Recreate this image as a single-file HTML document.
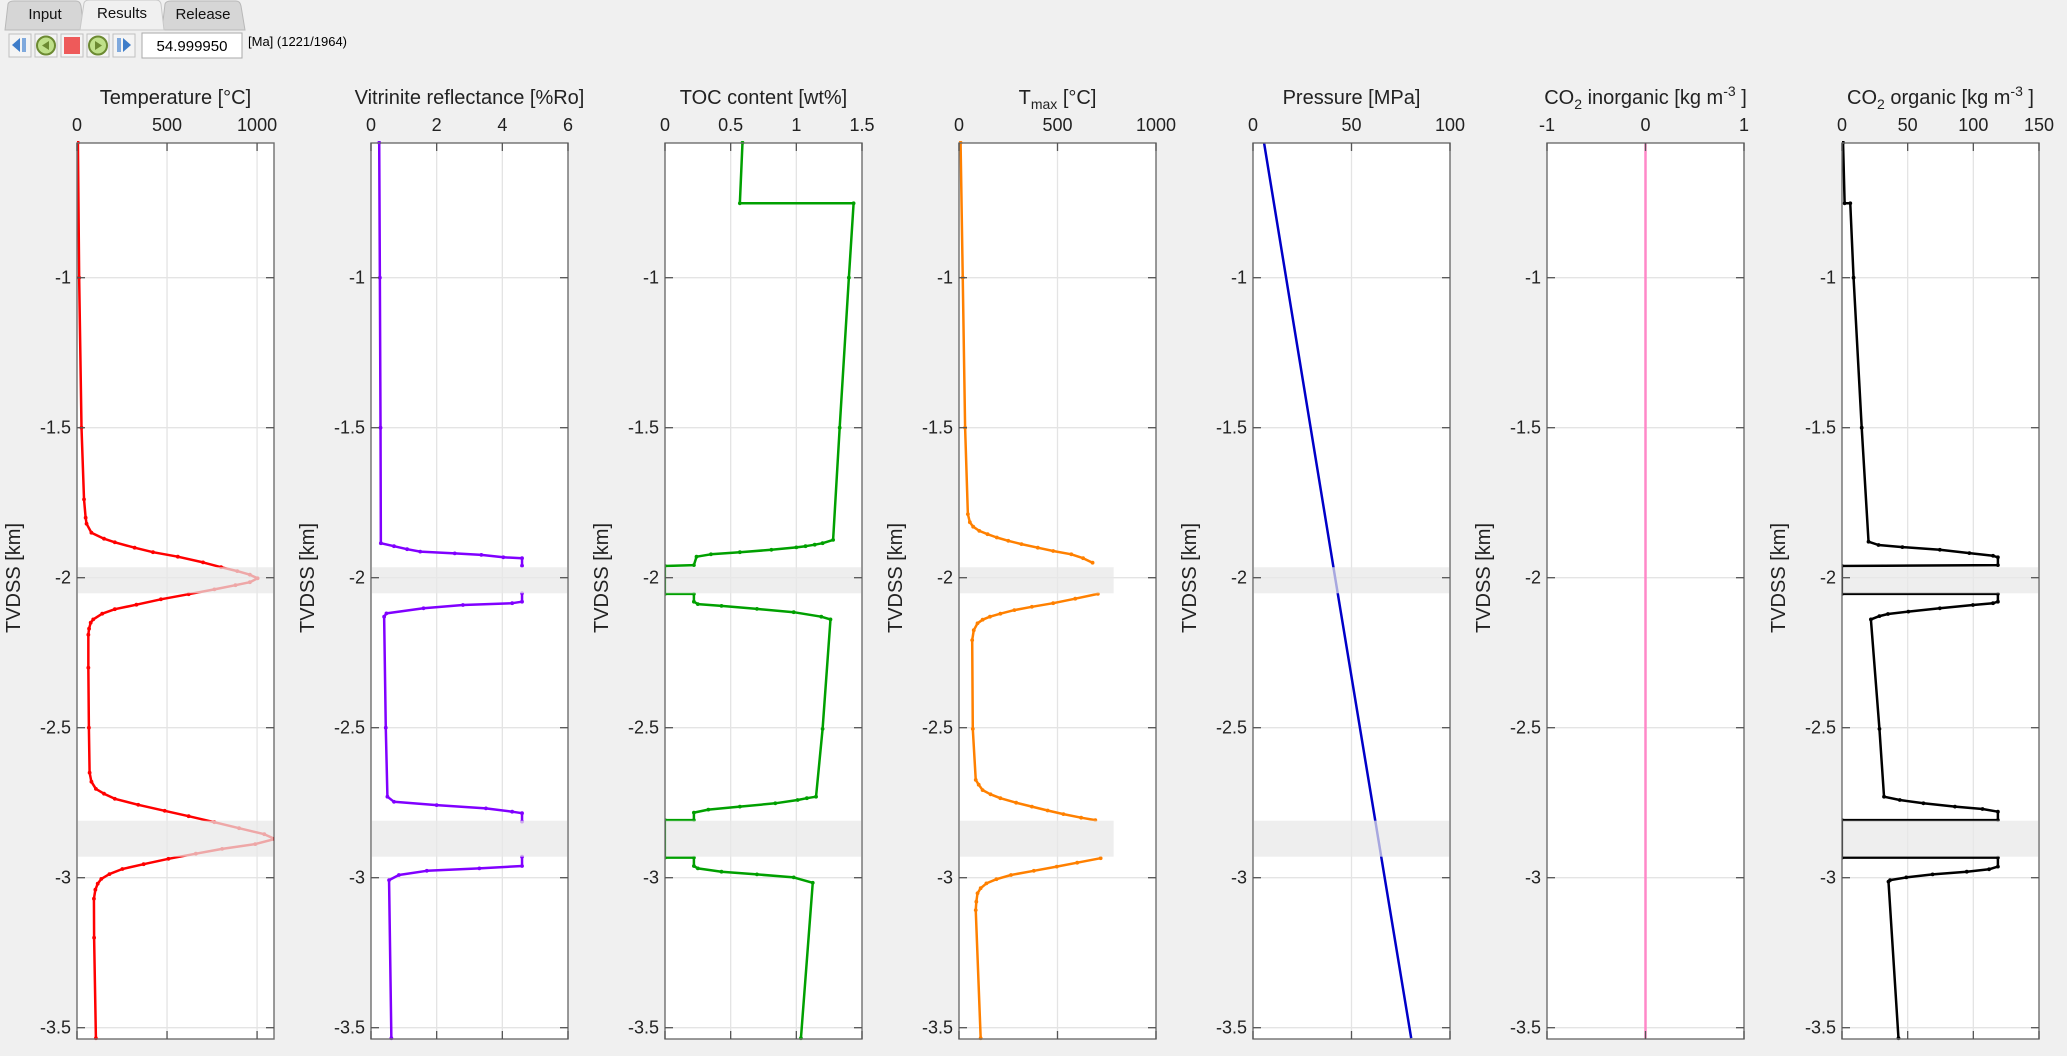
<!DOCTYPE html>
<html><head><meta charset="utf-8"><style>
body{margin:0;background:#f0f0f0;width:2067px;height:1056px;overflow:hidden;font-family:"Liberation Sans",Arial,sans-serif;}
svg{position:absolute;left:0;top:0}
</style></head><body>
<svg id="chart" width="2067" height="1056" viewBox="0 0 2067 1056">
  <rect x="0" y="0" width="2067" height="1056" fill="#f0f0f0"/>
  <g>
    <path d="M5,30 L8,4 Q9,1 14,1 L76,1 Q80,1 81,6 L84,30 Z" fill="#d6d6d6" stroke="#b8b8b8"/>
    <text x="45" y="19" font-size="15" text-anchor="middle" fill="#111">Input</text>
    <path d="M162,30 L165,4 Q166,1 171,1 L236,1 Q240,1 241,6 L245,30 Z" fill="#d6d6d6" stroke="#b8b8b8"/>
    <text x="203" y="19" font-size="15" text-anchor="middle" fill="#111">Release</text>
    <path d="M80,30 L84,3 Q85,0 90,0 L156,0 Q160,0 161,4 L164,30 Z" fill="#f0f0f0" stroke="#c8c8c8"/>
    <text x="122" y="18" font-size="15" text-anchor="middle" fill="#111">Results</text>
  </g>
  <g>
    <g><rect x="9" y="34" width="22" height="23" fill="#f4f4f4" stroke="#c0c0c0"/><path d="M12,45 L20,38 L20,52 Z" fill="#3d7cc9"/><rect x="22" y="38" width="4" height="14" fill="#7fa9dd"/></g>
    <g><rect x="35" y="34" width="22" height="23" fill="#f4f4f4" stroke="#c0c0c0"/><circle cx="46" cy="45.5" r="9" fill="#bfe08a" stroke="#6c8a32" stroke-width="2"/><path d="M42,45.5 L49,41 L49,50 Z" fill="#6c8a32"/></g>
    <g><rect x="61" y="34" width="22" height="23" fill="#f4f4f4" stroke="#c0c0c0"/><rect x="64" y="37" width="16" height="17" fill="#ee5a5a"/></g>
    <g><rect x="87" y="34" width="22" height="23" fill="#f4f4f4" stroke="#c0c0c0"/><circle cx="98" cy="45.5" r="9" fill="#bfe08a" stroke="#6c8a32" stroke-width="2"/><path d="M102,45.5 L95,41 L95,50 Z" fill="#6c8a32"/></g>
    <g><rect x="113" y="34" width="22" height="23" fill="#f4f4f4" stroke="#c0c0c0"/><rect x="117" y="38" width="4" height="14" fill="#7fa9dd"/><path d="M131,45 L123,38 L123,52 Z" fill="#3d7cc9"/></g>
    <rect x="142" y="33" width="100" height="25" fill="#fff" stroke="#aaa"/>
    <text x="192" y="51" font-size="15" text-anchor="middle" fill="#000">54.999950</text>
    <text x="248" y="46" font-size="13" fill="#000">[Ma] (1221/1964)</text>
  </g>
  <g id="panels"></g>
</svg>
<script>
const tempDepth=[-0.55,-1.0,-1.5,-1.739,-1.8,-1.82,-1.85,-1.87,-1.882,-1.9,-1.915,-1.93,-1.949,-1.965,-1.978,-1.99,-2.002,-2.015,-2.025,-2.039,-2.055,-2.072,-2.09,-2.105,-2.12,-2.139,-2.15,-2.17,-2.19,-2.3,-2.5,-2.65,-2.68,-2.704,-2.72,-2.737,-2.757,-2.777,-2.795,-2.815,-2.835,-2.855,-2.871,-2.888,-2.904,-2.92,-2.937,-2.955,-2.971,-2.988,-3.004,-3.02,-3.04,-3.07,-3.2,-3.535];
const tempValue=[5,12,25,39,48,53,80,150,210,320,422,560,700,800,890,960,1003,960,880,763,620,466,330,210,140,90,76,67,63,63,66,70,80,105,150,210,340,487,620,763,900,1040,1098,990,806,660,508,370,252,180,135,115,102,94,95,105];

const vrDepth=[-0.55,-1.0,-1.5,-1.885,-1.895,-1.905,-1.913,-1.919,-1.924,-1.932,-1.935,-1.96,null,-2.052,-2.08,-2.085,-2.091,-2.102,-2.119,-2.13,-2.5,-2.73,-2.747,-2.758,-2.769,-2.78,-2.785,-2.813,null,-2.93,-2.961,-2.969,-2.977,-2.991,-3.008,-3.535];
const vrValue=[0.25,0.27,0.29,0.3,0.7,1.1,1.5,2.55,3.36,4.03,4.6,4.6,null,4.6,4.6,4.3,2.8,1.6,0.47,0.4,0.45,0.5,0.7,2.0,3.5,4.3,4.6,4.6,null,4.6,4.6,3.3,1.7,0.85,0.55,0.62];

const tocDepth=[-0.55,-0.752,-0.752,-1.0,-1.5,-1.874,-1.885,-1.89,-1.895,-1.899,-1.907,-1.915,-1.922,-1.93,-1.958,-1.961,-2.054,-2.054,-2.08,-2.088,-2.094,-2.104,-2.115,-2.13,-2.139,-2.504,-2.73,-2.735,-2.741,-2.752,-2.763,-2.773,-2.783,-2.808,-2.808,-2.933,-2.933,-2.961,-2.969,-2.98,-2.989,-2.999,-3.017,-3.535];
const tocValue=[0.59,0.57,1.436,1.40,1.33,1.28,1.20,1.14,1.07,1.0,0.81,0.57,0.35,0.24,0.22,0,0,0.22,0.22,0.25,0.43,0.70,0.98,1.19,1.26,1.20,1.15,1.08,1.01,0.84,0.57,0.33,0.22,0.22,0,0,0.22,0.22,0.25,0.43,0.70,0.98,1.125,1.035];

const tmaxDepth=[-0.55,-1.0,-1.5,-1.788,-1.815,-1.83,-1.844,-1.855,-1.866,-1.877,-1.888,-1.9,-1.911,-1.922,-1.935,-1.95,null,-2.054,-2.07,-2.085,-2.097,-2.108,-2.12,-2.13,-2.14,-2.152,-2.175,-2.208,-2.504,-2.674,-2.69,-2.708,-2.722,-2.735,-2.75,-2.763,-2.776,-2.788,-2.8,-2.808,null,-2.935,-2.95,-2.963,-2.977,-2.991,-3.005,-3.019,-3.035,-3.052,-3.08,-3.108,-3.535];
const tmaxValue=[8,19,31,45,55,72,103,145,192,250,317,400,478,570,630,678,null,705,590,478,370,281,210,157,120,94,75,67,70,85,100,120,160,210,290,370,450,530,620,692,null,719,600,496,380,264,190,139,110,94,88,85,110];

const presDepth=[-0.55,-2.0,-3.535];
const presValue=[5.6,41.7,80.3];

const co2iDepth=[-0.55,-3.535];
const co2iValue=[0,0];

const co2oDepth=[-0.55,-0.752,-0.752,-1.0,-1.5,-1.88,-1.891,-1.898,-1.907,-1.918,-1.927,-1.932,-1.958,-1.961,-2.054,-2.054,-2.08,-2.085,-2.091,-2.102,-2.113,-2.121,-2.128,-2.139,-2.504,-2.73,-2.741,-2.752,-2.763,-2.771,-2.78,-2.808,-2.808,-2.933,-2.933,-2.963,-2.972,-2.98,-2.989,-2.999,-3.008,-3.013,-3.535];
const co2oValue=[0.8,2,6.3,8.8,15,20.2,27.8,46,74.5,97,115,118.7,118.7,0,0,118.7,118.7,115,99.7,74.5,50.5,35,28.5,22,28.5,32,44,62,86,107,118.7,118.7,0,0,118.7,118.7,112,95,69,49,36.6,35.4,43];

const bandTops=[-1.965,-2.81];
const bandBottoms=[-2.052,-2.93];

const panelTitles=["Temperature [°C]","Vitrinite reflectance [%Ro]","TOC  content [wt%]","Tmax [°C]","Pressure [MPa]","CO2 inorganic [kg m-3]","CO2 organic [kg m-3]"];
const xTicks=[[0,500,1000],[0,2,4,6],[0,0.5,1,1.5],[0,500,1000],[0,50,100],[-1,0,1],[0,50,100,150]];
const xMins=[0,0,0,0,0,-1,0];
const xMaxs=[1094,6,1.5,1000,100,1,150];
const yTicks=[-1,-1.5,-2,-2.5,-3,-3.5];

const NS="http://www.w3.org/2000/svg";
const panelLefts=[77,371,665,959,1253,1547,1842];
const PW=197, TOP=143, BOT=1039;
const yOf=d=>277.7+(-1-d)*300;
const panels=[
 {name:"temperature",d:tempDepth,v:tempValue,c:"#ff0000",band:true,bandMax:null},
 {name:"vitrinite",d:vrDepth,v:vrValue,c:"#8000ff",band:true,bandMax:null},
 {name:"toc",d:tocDepth,v:tocValue,c:"#00a000",band:true,bandMax:null},
 {name:"tmax",d:tmaxDepth,v:tmaxValue,c:"#ff8000",band:true,bandMax:790},
 {name:"pressure",d:presDepth,v:presValue,c:"#0000c8",band:true,bandMax:null},
 {name:"co2-inorganic",d:co2iDepth,v:co2iValue,c:"#ff88c8",band:false,bandMax:null},
 {name:"co2-organic",d:co2oDepth,v:co2oValue,c:"#000000",band:true,bandMax:null}
];
function mk(tag,attrs,parent){const e=document.createElementNS(NS,tag);for(const k in attrs)e.setAttribute(k,attrs[k]);parent.appendChild(e);return e;}
const root=document.getElementById("panels");
panels.forEach((p,i)=>{
  const L=panelLefts[i], R=L+PW, xmin=xMins[i], xmax=xMaxs[i];
  const xOf=v=>L+(v-xmin)/(xmax-xmin)*PW;
  const g=mk("g",{},root);
  
  
  const bg=mk("rect",{x:L,y:TOP,width:PW,height:BOT-TOP,fill:"#fff"},g);
  
  
  xTicks[i].forEach(t=>{const x=xOf(t);
    if(x>L+1&&x<R-1){const gl=mk("line",{x1:x,x2:x,y1:TOP,y2:BOT,stroke:"#e4e4e4","stroke-width":1.3},g);
      
      }});
  yTicks.forEach(t=>{const y=yOf(t);const gl=mk("line",{x1:L,x2:R,y1:y,y2:y,stroke:"#e4e4e4","stroke-width":1.3},g);
    
    });
  const cp=mk("clipPath",{id:"cp"+i},g); mk("rect",{x:L,y:TOP-2,width:PW,height:BOT-TOP+4},cp);
  const sg=mk("g",{"clip-path":"url(#cp"+i+")"},g);
  let segs=[],cur=[];
  p.d.forEach((d,k)=>{if(d===null||p.v[k]===null){if(cur.length)segs.push(cur);cur=[];}else cur.push([xOf(p.v[k]),yOf(d)]);});
  if(cur.length)segs.push(cur);
  segs.forEach(s=>{const pl=mk("polyline",{points:s.map(q=>q.join(",")).join(" "),fill:"none",stroke:p.c,"stroke-width":2.5,"stroke-linejoin":"round"},sg);
    
    
    if(s.length>3) s.forEach(q=>{const m=mk("circle",{cx:q[0],cy:q[1],r:1.9,fill:p.c},sg);
      
      });
  });
  if(p.band){bandTops.forEach((bt,k)=>{const bx2=p.bandMax===null?R:xOf(p.bandMax);
    const b=mk("rect",{x:L+1,y:yOf(bt),width:bx2-L-2,height:yOf(bandBottoms[k])-yOf(bt),fill:"#e8e8e8","fill-opacity":0.72},g);
    
    });}
  const box=mk("rect",{x:L,y:TOP,width:PW,height:BOT-TOP,fill:"none",stroke:"#6e6e6e","stroke-width":1.4},g);
  
  
  xTicks[i].forEach(t=>{const x=xOf(t);
    mk("line",{x1:x,x2:x,y1:TOP,y2:TOP+8,stroke:"#555","stroke-width":1.3},g);
    mk("line",{x1:x,x2:x,y1:BOT,y2:BOT-8,stroke:"#555","stroke-width":1.3},g);
    const tl=mk("text",{x:x,y:131,"font-size":18,"text-anchor":"middle",fill:"#222"},g);tl.textContent=t;
    
    });
  yTicks.forEach(t=>{const y=yOf(t);
    mk("line",{x1:L,x2:L+8,y1:y,y2:y,stroke:"#555","stroke-width":1.3},g);
    mk("line",{x1:R,x2:R-8,y1:y,y2:y,stroke:"#555","stroke-width":1.3},g);
    const tl=mk("text",{x:L-6,y:y+6,"font-size":18,"text-anchor":"end",fill:"#222"},g);tl.textContent=t;
    
    });
  const yl=mk("text",{x:0,y:0,"font-size":20,"text-anchor":"middle",fill:"#222",transform:`translate(${L-57},578) rotate(-90)`},g);
  yl.textContent="TVDSS [km]";
  
  
  const cx=L+PW/2;
  const tt=mk("text",{x:cx,y:104,"font-size":20,"text-anchor":"middle",fill:"#222"},g);
  
  
  const title=panelTitles[i];
  if(title.startsWith("Tmax")){
    tt.innerHTML='T<tspan font-size="14" dy="5">max</tspan><tspan dy="-5"> [°C]</tspan>';
  } else if(title.startsWith("CO2")){
    const rest=title.slice(3).replace(" [kg m-3]","");
    tt.innerHTML='CO<tspan font-size="14" dy="5">2</tspan><tspan dy="-5">'+rest+' [kg m</tspan><tspan font-size="14" dy="-8">-3</tspan><tspan dy="8"> ]</tspan>';
  } else tt.textContent=title;
});
</script>
</body></html>
